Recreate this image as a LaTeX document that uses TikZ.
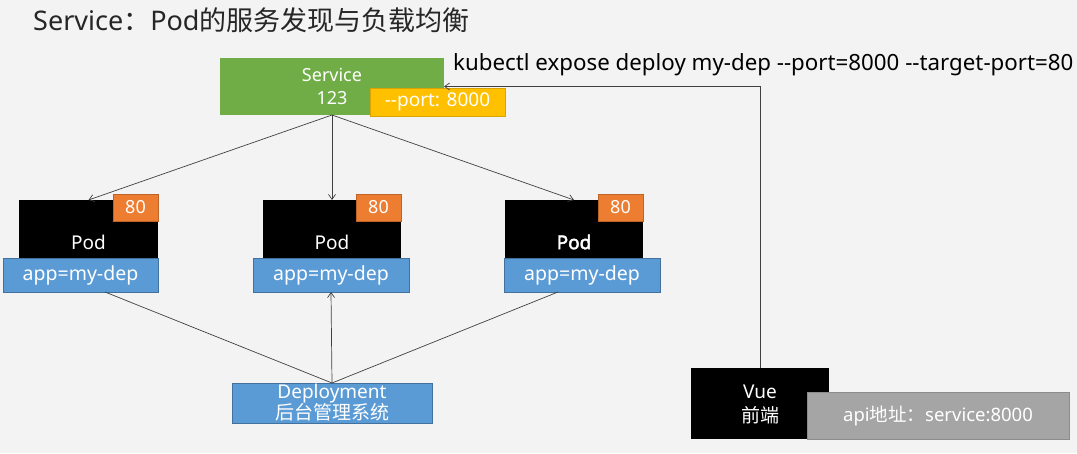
\documentclass[tikz,border=0pt]{standalone}
\usepackage{fontspec}
\setmainfont{Noto Sans}
\newfontfamily\cjk{Noto Sans CJK SC}
\newfontfamily\heavypod{Noto Sans}[FakeBold=2.5]
\usetikzlibrary{arrows.meta}
\definecolor{bg}{HTML}{F3F3F3}
\definecolor{svcgreen}{HTML}{70AD47}
\definecolor{portyellow}{HTML}{FFC000}
\definecolor{podorange}{HTML}{ED7D31}
\definecolor{labblue}{HTML}{5B9BD5}
\definecolor{labblueline}{HTML}{41719C}
\definecolor{apigray}{HTML}{A5A5A5}
\definecolor{lineclr}{HTML}{404040}
\begin{document}
\begin{tikzpicture}[x=1pt,y=-1pt,
  box/.style={anchor=north west,inner sep=0pt,outer sep=0pt,text=white,align=center},
  svcbox/.style={box,fill=svcgreen,minimum width=224pt,minimum height=57pt,font=\fontsize{18}{23}\selectfont},
  portbox/.style={box,fill=portyellow,draw=portyellow!85!black,line width=0.6pt,minimum width=135pt,minimum height=28pt,font=\fontsize{19}{22}\selectfont},
  podbox/.style={box,fill=black,minimum width=138pt,minimum height=58pt},
  podtext/.style={text=white,inner sep=0pt,font=\fontsize{19}{22}\selectfont},
  numbox/.style={box,fill=podorange,draw=podorange!80!black,line width=0.6pt,minimum width=45pt,minimum height=27pt,font=\fontsize{18}{21}\selectfont},
  labbox/.style={box,fill=labblue,draw=labblueline,line width=0.6pt,minimum width=156pt,minimum height=34pt,font=\fontsize{19.5}{22}\selectfont},
  depbox/.style={box,fill=labblue,draw=labblueline,line width=0.6pt,minimum width=200pt,minimum height=40pt,font=\fontsize{19}{21}\selectfont},
  vuebox/.style={box,fill=black,minimum width=138pt,minimum height=71pt},
  apibox/.style={box,fill=apigray,draw=apigray!85!black,line width=0.6pt,minimum width=262pt,minimum height=47pt,font=\fontsize{18.5}{21}\selectfont},
  conn/.style={draw=lineclr,line width=0.7pt},
  arr/.style={conn,-{Straight Barb[length=5pt,width=7pt]}}
]
\useasboundingbox (0,0) rectangle (1077,453);
\fill[bg] (0,0) rectangle (1077,453);

% title
\node[anchor=west,inner sep=0pt,text=black!85,font=\fontsize{27}{31}\selectfont] (title) at (33,20)
  {Service{\cjk ：}Pod{\cjk 的服务发现与负载均衡}};
\node[anchor=west,inner sep=0pt,text=black,font=\fontsize{22.3}{26}\selectfont] (cmd) at (453,65)
  {kubectl expose deploy my-dep -{}-port=8000 -{}-target-port=80};

% service
\node[svcbox] (svc) at (220,58) {Service\\123};
\node[portbox] (port) at (370,88) {-{}-port: 8000};

% pods
\node[podbox,minimum width=139pt] (pod1) at (19,200) {};
\node[podbox] (pod2) at (263,200) {};
\node[podbox] (pod3) at (505,200) {};
\node[podtext] (pt1) at (88.5,242) {Pod};
\node[podtext] (pt2) at (332,242) {Pod};
\node[podtext,font=\fontsize{19}{22}\heavypod] (pt3) at (574,242) {Pod};
\node[numbox] (n1) at (113,194) {80};
\node[numbox] (n2) at (356,194) {80};
\node[numbox] (n3) at (598,194) {80};
\node[labbox,minimum width=155pt] (lab1) at (3,258) {app=my-dep};
\node[labbox] (lab2) at (253,258) {app=my-dep};
\node[labbox] (lab3) at (504,258) {app=my-dep};

% deployment
\node[depbox] (dep) at (232,383) {Deployment\\{\cjk 后台管理系统}};

% vue
\node[vuebox] (vue) at (691,368) {};
\node[podtext,align=center,font=\fontsize{19}{24}\selectfont] (vt) at (760,404) {Vue\\{\cjk 前端}};
\node[apibox] (api) at (807,392) {api{\cjk 地址：}service:8000};

% connectors
\draw[arr] (svc.south) -- (pod1.north);
\draw[arr] (svc.south) -- (pod2.north);
\draw[arr] (svc.south) -- (pod3.north);
\draw[conn] (dep.north) -- ([xshift=24.5pt]lab1.south);
\draw[arr] (dep.north) -- (lab2.south);
\draw[conn] (dep.north) -- ([xshift=-24pt]lab3.south);
\draw[arr] (vue.north) |- (svc.east);
\end{tikzpicture}
\end{document}
